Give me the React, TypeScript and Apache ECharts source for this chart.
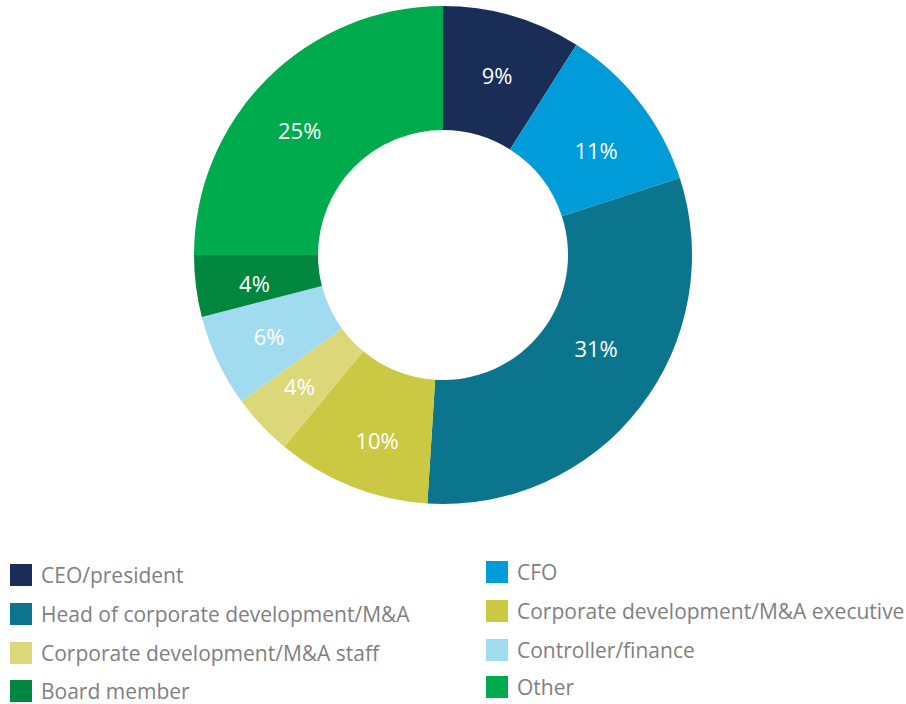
import React, { useEffect, useRef } from "react";
import * as echarts from "echarts";

const categories = [
  "CEO/president",
  "CFO",
  "Head of corporate development/M&A",
  "Corporate development/M&A executive",
  "Corporate development/M&A staff",
  "Controller/finance",
  "Board member",
  "Other",
];
const values = [9, 11, 31, 10, 4, 6, 4, 25];
const colors = [
  "#1a2d57",
  "#009cd9",
  "#0b758e",
  "#cbc843",
  "#dcd87a",
  "#a0dbf0",
  "#00863f",
  "#00ab4d",
];
// small nudges of the in-slice labels relative to the slice centre
const labelNudges: [number, number][] = [
  [1, 2],
  [3, 11],
  [3, -23],
  [4, 8],
  [-5, 1],
  [-2, 0],
  [0, 4],
  [-9, 9],
];
// legend layout: [name index, left, top]
const legendSlots: [number, number, number][] = [
  [0, 10, 564],
  [2, 10, 603],
  [4, 10, 642],
  [6, 10, 680],
  [1, 486, 561],
  [3, 486, 600],
  [5, 486, 639],
  [7, 486, 676],
];

export default function App() {
  const ref = useRef<HTMLDivElement>(null);
  useEffect(() => {
    document.body.style.margin = "0";
    if (!ref.current) return;
    const chart = echarts.init(ref.current, undefined, { renderer: "svg" });
    const font = "'Open Sans', 'Noto Sans', sans-serif";
    chart.setOption({
      animation: false,
      color: colors,
      legend: legendSlots.map(([i, left, top]) => ({
        data: [categories[i]],
        left,
        top,
        padding: 0,
        icon: "rect",
        itemWidth: 22,
        itemHeight: 22,
        selectedMode: false,
        textStyle: {
          color: "#7f7f7f",
          fontSize: 21,
          fontFamily: font,
          padding: [0, 0, 4, 4],
        },
      })),
      series: [
        {
          type: "pie",
          center: [443, 255],
          radius: [125, 249],
          startAngle: 90,
          clockwise: true,
          avoidLabelOverlap: false,
          label: {
            show: true,
            position: "inside",
            formatter: "{c}%",
            color: "#ffffff",
            fontSize: 22,
            fontFamily: font,
          },
          labelLine: { show: false },
          emphasis: { disabled: true },
          itemStyle: { borderWidth: 0 },
          data: categories.map((name, i) => ({
            name,
            value: values[i],
            label: { offset: labelNudges[i] },
          })),
        },
      ],
    });
    return () => chart.dispose();
  }, []);
  return <div ref={ref} style={{ width: 906, height: 704 }} />;
}
